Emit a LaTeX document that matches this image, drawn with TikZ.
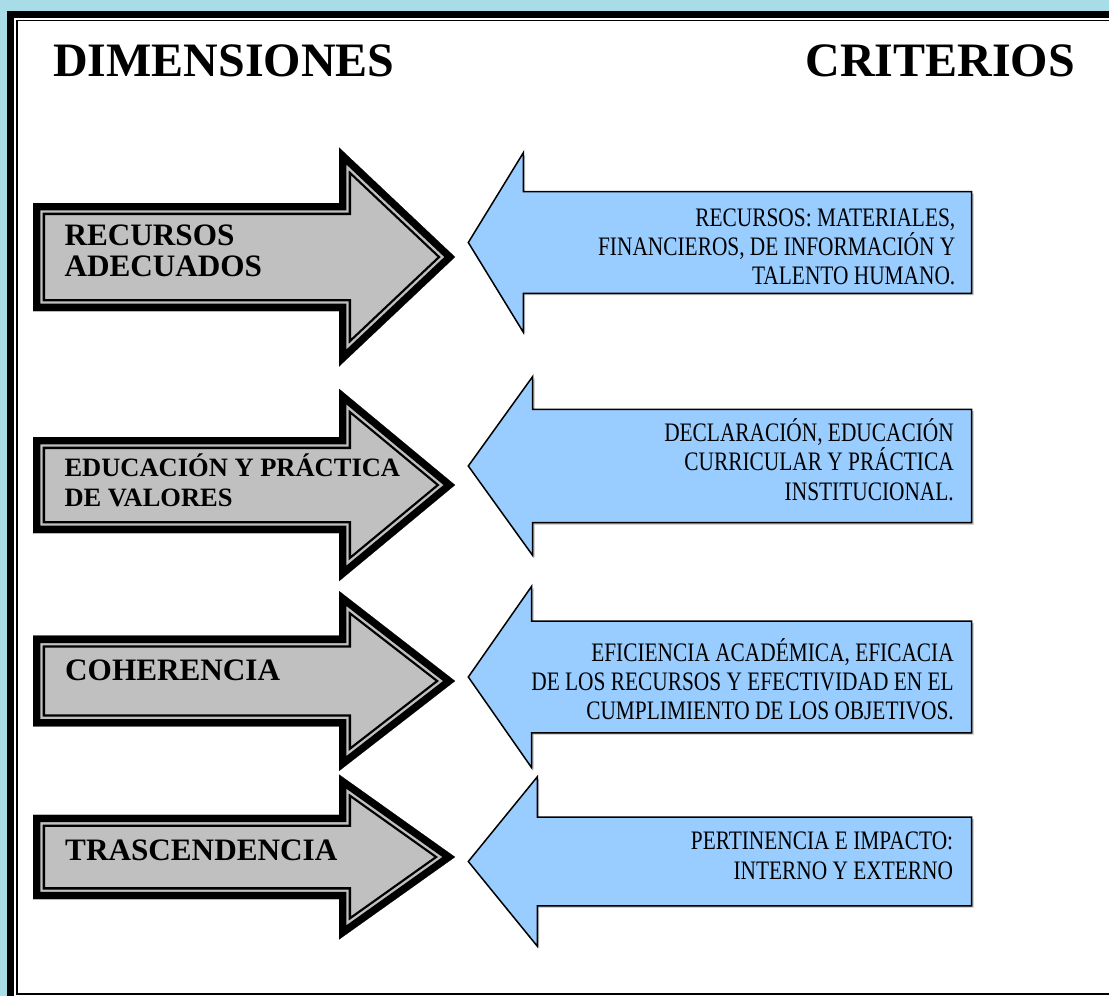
\documentclass[tikz,border=0pt]{standalone}
\usepackage{fontspec}
\setmainfont{Liberation Serif}
\newfontfamily\condfont[FakeStretch=0.8]{Liberation Serif}
\definecolor{bgblue}{RGB}{168,220,230}
\definecolor{silv}{RGB}{192,192,192}
\definecolor{skyb}{RGB}{153,204,255}

\newcommand\GArrowPath[3]{(33,#1-#2) -- (339,#1-#2) -- (339,#1-#3) -- (455,#1) -- (339,#1+#3) -- (339,#1+#2) -- (33,#1+#2) -- cycle}
\newcommand\GArrow[3]{%
  \fill[silv] \GArrowPath{#1}{#2}{#3};
  \begin{scope}
    \clip \GArrowPath{#1}{#2}{#3};
    \draw[black,line width=24] \GArrowPath{#1}{#2}{#3};
    \draw[silv,line width=19.4] \GArrowPath{#1}{#2}{#3};
    \draw[black,line width=14.6] \GArrowPath{#1}{#2}{#3};
  \end{scope}}
\newcommand\BArrowPath[4]{(468.3,#1) -- (#4,#1-#3) -- (#4,#1-#2) -- (971.7,#1-#2) -- (971.7,#1+#2) -- (#4,#1+#2) -- (#4,#1+#3) -- cycle}
\newcommand\BArrow[4]{%
  \fill[gray!55, shift={(1.8,1.8)}] \BArrowPath{#1}{#2}{#3}{#4};
  \filldraw[fill=skyb, draw=black, line width=1.5, line join=miter] \BArrowPath{#1}{#2}{#3}{#4};}

\tikzset{
  title/.style={font=\fontsize{48}{48}\selectfont\bfseries, inner sep=0},
  dim/.style={font=\fontsize{31.2}{31.2}\selectfont\bfseries, inner sep=0, anchor=base west, text height=21, text depth=0},
  dimsmall/.style={font=\fontsize{26.5}{26.5}\selectfont\bfseries, inner sep=0, anchor=base west},
  crit/.style={font=\condfont\fontsize{26.7}{26.7}\selectfont, inner sep=0, anchor=base east},
}

\begin{document}
\begin{tikzpicture}[x=1pt,y=-1pt]
\useasboundingbox (0,0) rectangle (1109,996);
% background and frame
\fill[bgblue] (0,0) rectangle (1109,996);
\fill[black] (7,11) rectangle (1125,1010);
\fill[white] (14,18) rectangle (1125,1010);
\draw[black,line width=1.8] (16.8,20.5) rectangle (1115,994);

% titles
\node[title, anchor=base west] (tdim) at (53,76) {DIMENSIONES};
\node[title, anchor=base east] (tcrit) at (1075,76) {CRITERIOS};

% gray arrows
\GArrow{257}{54}{109.5}
\GArrow{485}{48}{96.2}
\GArrow{681}{45.3}{90}
\GArrow{857}{42.2}{82.5}

% blue arrows
\BArrow{242.5}{50.8}{89.7}{523.3}
\BArrow{466}{56.7}{89.5}{532.7}
\BArrow{677}{55.8}{90.8}{531.7}
\BArrow{861.5}{44.3}{84.7}{537.3}

% dimension texts
\node[dim] (d1a) at (64.3,245.7) {RECURSOS};
\node[dim] (d1b) at (64.3,276) {ADECUADOS};
\node[dimsmall] (d2a) at (64.3,476) {EDUCACIÓN Y PRÁCTICA};
\node[dimsmall] (d2b) at (64.3,506.7) {DE VALORES};
\node[dim] (d3) at (65,680.7) {COHERENCIA};
\node[dim] (d4) at (65,860) {TRASCENDENCIA};

% criteria texts
\node[crit] (c1a) at (955.5,226) {RECURSOS: MATERIALES,};
\node[crit] (c1b) at (955.5,255) {FINANCIEROS, DE INFORMACIÓN Y};
\node[crit] (c1c) at (955.5,284) {TALENTO HUMANO.};
\node[crit] (c2a) at (954,441) {DECLARACIÓN, EDUCACIÓN};
\node[crit] (c2b) at (954,470.5) {CURRICULAR Y PRÁCTICA};
\node[crit] (c2c) at (954,500) {INSTITUCIONAL.};
\node[crit] (c3a) at (954,661) {EFICIENCIA ACADÉMICA, EFICACIA};
\node[crit] (c3b) at (954,690.3) {DE LOS RECURSOS Y EFECTIVIDAD EN EL};
\node[crit] (c3c) at (954,719.6) {CUMPLIMIENTO DE LOS OBJETIVOS.};
\node[crit] (c4a) at (953.3,849) {PERTINENCIA E IMPACTO:};
\node[crit] (c4b) at (953.3,879) {INTERNO Y EXTERNO};
\end{tikzpicture}
\end{document}
